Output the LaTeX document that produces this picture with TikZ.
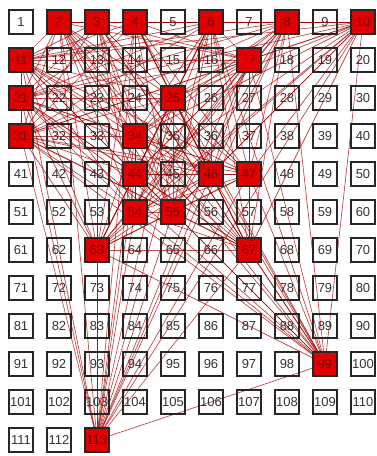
\documentclass[tikz,border=0pt]{standalone}
\usepackage{fontspec}
\setmainfont{Liberation Sans}
\usepackage{tikz}
\usetikzlibrary{backgrounds}
\newcommand{\hotcells}{2,3,4,6,8,10,11,17,21,25,31,34,44,46,47,54,55,63,67,99,113}

\begin{document}
\begin{tikzpicture}[
  x=1pt, y=1pt,
  cell/.style={draw=black!85, line width=2pt, minimum size=24pt, inner sep=0pt, font=\fontsize{13}{13}\selectfont, text=black!80},
  hotcell/.style={cell, fill=red!88!black, text=red!45!black},
  link/.style={red!65!black, opacity=0.7, line width=0.7pt}
]
\useasboundingbox (0,0) rectangle (376,-456);
\foreach \n in {1,...,113} {
  \pgfmathtruncatemacro{\c}{mod(\n-1,10)}
  \pgfmathtruncatemacro{\r}{div(\n-1,10)}
  \gdef\kind{cell}
  \foreach \h in \hotcells {\ifnum\h=\n \gdef\kind{hotcell}\fi}
  \node[\kind] (n\n) at (21+38*\c, -22-38*\r) {\n};
}
\begin{scope}[on background layer]
\foreach \a [count=\i] in \hotcells
  \foreach \b [count=\j] in \hotcells {
    \ifnum\i<\j \draw[link] (n\a.center) -- (n\b.center); \fi
  }
\end{scope}
\end{tikzpicture}
\end{document}
